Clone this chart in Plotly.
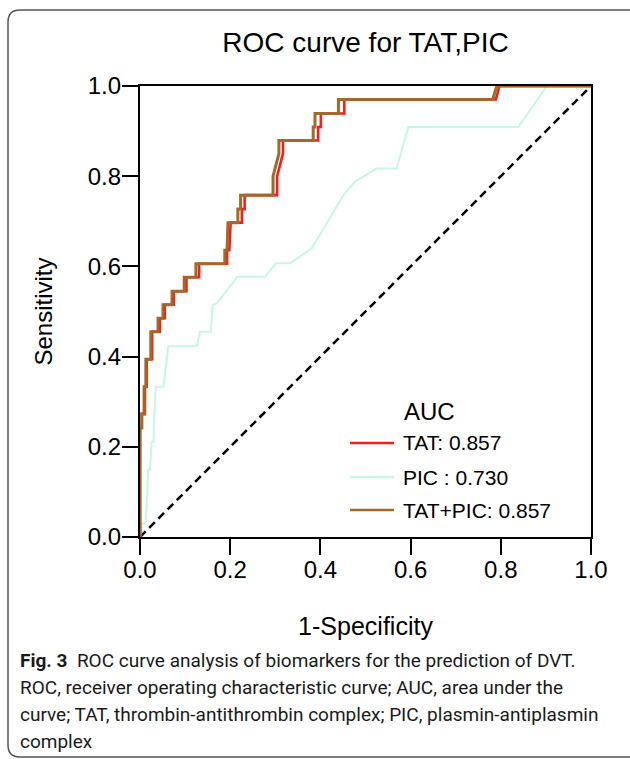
import plotly.graph_objects as go

# ---------------- data ----------------
tat_fpr = [0, 0, 0.004, 0.004, 0.011, 0.011, 0.015, 0.015, 0.027, 0.027, 0.044, 0.044,
           0.055, 0.055, 0.075, 0.075, 0.103, 0.103, 0.131, 0.131, 0.193, 0.193, 0.198,
           0.201, 0.226, 0.226, 0.232, 0.232, 0.304, 0.304, 0.317, 0.317, 0.395, 0.395,
           0.401, 0.401, 0.453, 0.453, 0.789, 0.797, 1.0]
tat_tpr = [0, 0.242, 0.242, 0.273, 0.273, 0.333, 0.333, 0.394, 0.394, 0.455, 0.455, 0.485,
           0.485, 0.515, 0.515, 0.545, 0.545, 0.576, 0.576, 0.606, 0.606, 0.636, 0.636,
           0.697, 0.697, 0.727, 0.727, 0.758, 0.758, 0.800, 0.850, 0.879, 0.879, 0.909,
           0.909, 0.939, 0.939, 0.970, 0.970, 1.0, 1.0]

pic_fpr = [0, 0.004, 0.013, 0.015, 0.018, 0.022, 0.026, 0.030, 0.031, 0.035, 0.052, 0.063,
           0.126, 0.133, 0.157, 0.161, 0.171, 0.216, 0.277, 0.302, 0.333, 0.381, 0.451,
           0.477, 0.525, 0.569, 0.595, 0.839, 0.902, 1.0]
pic_tpr = [0, 0.030, 0.030, 0.089, 0.149, 0.149, 0.211, 0.211, 0.253, 0.333, 0.333, 0.423,
           0.423, 0.455, 0.455, 0.514, 0.519, 0.577, 0.577, 0.607, 0.607, 0.640, 0.758,
           0.788, 0.817, 0.817, 0.909, 0.909, 1.0, 1.0]

comb_fpr = [0, 0, 0.004, 0.004, 0.009, 0.009, 0.013, 0.013, 0.024, 0.024, 0.040, 0.040,
            0.051, 0.051, 0.071, 0.071, 0.098, 0.098, 0.124, 0.124, 0.188, 0.188, 0.193,
            0.195, 0.217, 0.217, 0.223, 0.223, 0.295, 0.295, 0.308, 0.308, 0.384, 0.384,
            0.388, 0.388, 0.440, 0.440, 0.782, 0.791, 1.0]
comb_tpr = tat_tpr

ref_x = [0, 1]
ref_y = [0, 1]

series_names = ["TAT: 0.857", "PIC : 0.730", "TAT+PIC: 0.857"]
legend_title = "AUC"
tick_vals = [0, 0.2, 0.4, 0.6, 0.8, 1.0]
tick_text = ["0.0", "0.2", "0.4", "0.6", "0.8", "1.0"]
caption_lines = [
    "<b>Fig. 3</b>  ROC curve analysis of biomarkers for the prediction of DVT.",
    "ROC, receiver operating characteristic curve; AUC, area under the",
    "curve; TAT, thrombin-antithrombin complex; PIC, plasmin-antiplasmin",
    "complex",
]

# ---------------- styling ----------------
W, H = 630, 759
L, R, T, B = 140, 39, 86, 222
PW, PH = W - L - R, H - T - B

RED = "#ff1a1a"
CYAN = "#c6f6e8"
BROWN = "#a06a2c"
colors = [RED, CYAN, BROWN]
FONT = "Liberation Sans, Arial, sans-serif"
CAP_FONT = "Roboto, Noto Sans, sans-serif"


def px_x(px):
    return (px - L) / PW


def px_y(py):
    return (H - B - py) / PH


fig = go.Figure()
fig.add_trace(go.Scatter(x=ref_x, y=ref_y, mode="lines",
                         line=dict(color="black", width=2.5, dash="8px,5px"),
                         showlegend=False, hoverinfo="skip"))
fig.add_trace(go.Scatter(x=pic_fpr, y=pic_tpr, mode="lines", name=series_names[1],
                         line=dict(color=CYAN, width=2), showlegend=False))
fig.add_trace(go.Scatter(x=tat_fpr, y=tat_tpr, mode="lines", name=series_names[0],
                         line=dict(color=RED, width=2.6), showlegend=False))
fig.add_trace(go.Scatter(x=comb_fpr, y=comb_tpr, mode="lines", name=series_names[2],
                         line=dict(color=BROWN, width=3), showlegend=False))

axis_common = dict(
    range=[0, 1], tickvals=tick_vals, ticktext=tick_text,
    showgrid=False, zeroline=False, showline=True, linecolor="black", linewidth=2.2,
    ticks="outside", ticklen=16, tickwidth=2.2, tickcolor="black", mirror=True,
    tickfont=dict(family=FONT, size=24, color="black"),
    layer="below traces",
)

fig.update_layout(
    width=W, height=H,
    margin=dict(l=L, r=R, t=T, b=B, pad=0),
    paper_bgcolor="white", plot_bgcolor="white",
    showlegend=False,
    title=dict(text="ROC curve for TAT,PIC", x=(L + PW / 2) / W, xanchor="center",
               y=1 - 42 / H, yanchor="middle",
               font=dict(family=FONT, size=28, color="black")),
    xaxis=dict(axis_common, ticklabelstandoff=-6,
               title=dict(text="1-Specificity", standoff=36,
                          font=dict(family=FONT, size=25, color="black"))),
    yaxis=dict(axis_common, ticklabelstandoff=-4,
               title=dict(text="Sensitivity", standoff=28,
                          font=dict(family=FONT, size=24, color="black"))),
)

# manual legend
fig.add_annotation(xref="paper", yref="paper", x=px_x(402), y=px_y(411),
                   text=legend_title, showarrow=False, xanchor="left", yanchor="middle",
                   font=dict(family=FONT, size=24, color="black"))
leg_y = [443, 477, 510]
for name, col, yy in zip(series_names, colors, leg_y):
    fig.add_shape(type="line", xref="paper", yref="paper",
                  x0=px_x(350), x1=px_x(394), y0=px_y(yy), y1=px_y(yy),
                  line=dict(color=col, width=2.5))
    fig.add_annotation(xref="paper", yref="paper", x=px_x(401), y=px_y(yy),
                       text=name, showarrow=False, xanchor="left", yanchor="middle",
                       font=dict(family=FONT, size=21, color="black"))

# caption
cap_y = [660, 687, 714, 741]
for line, yy in zip(caption_lines, cap_y):
    fig.add_annotation(xref="paper", yref="paper", x=px_x(18), y=px_y(yy),
                       text=line, showarrow=False, xanchor="left", yanchor="middle",
                       font=dict(family=CAP_FONT, size=19, color="#1a1a1a"))

# outer rounded frame
x0, y0 = px_x(8), px_y(10)
x1, y1 = px_x(650), px_y(757)
rx, ry = 12 / PW, 12 / PH
path = (f"M {x1},{y0} L {x0 + rx},{y0} Q {x0},{y0} {x0},{y0 - ry} "
        f"L {x0},{y1 + ry} Q {x0},{y1} {x0 + rx},{y1} L {x1},{y1}")
fig.add_shape(type="path", xref="paper", yref="paper", path=path,
              line=dict(color="#555555", width=1.5))

fig.write_html("out.html", config={"displayModeBar": False},
               post_script="document.body.style.margin='0';document.body.style.overflow='hidden';")
